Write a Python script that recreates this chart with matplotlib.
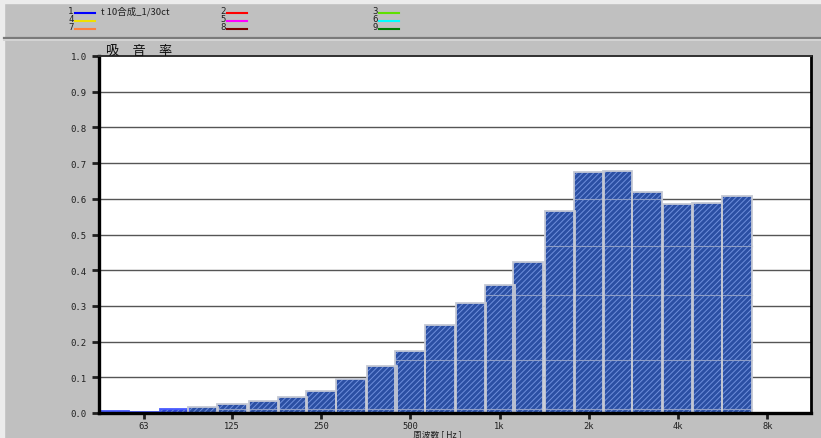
import matplotlib
matplotlib.use("Agg")
import matplotlib.pyplot as plt
from matplotlib.lines import Line2D
from matplotlib.patches import Rectangle

# 1/3 octave band centres [Hz] and absorption coefficients
bands = [50, 63, 80, 100, 125, 160, 200, 250, 315, 400, 500, 630, 800,
         1000, 1250, 1600, 2000, 2500, 3150, 4000, 5000, 6300]
alpha = [0.007, 0.004, 0.012, 0.018, 0.026, 0.035, 0.046, 0.063, 0.094,
         0.132, 0.174, 0.247, 0.308, 0.359, 0.423, 0.566, 0.676, 0.677,
         0.620, 0.585, 0.589, 0.609]

# octave tick positions and labels
tick_freqs = [63, 125, 250, 500, 1000, 2000, 4000, 8000]
tick_labels = ["63", "125", "250", "500", "1k", "2k", "4k", "8k"]
yticks = [0.0, 0.1, 0.2, 0.3, 0.4, 0.5, 0.6, 0.7, 0.8, 0.9, 1.0]

# light lines running through the bars
inner_levels = [0.011, 0.148, 0.33, 0.468, 0.60]

# legend slots
slot_ids = ["1", "2", "3", "4", "5", "6", "7", "8", "9"]
slot_colors = ["#0000ff", "#ff0000", "#60e000", "#f0e000", "#ff00ff",
               "#00ffff", "#ff8040", "#800000", "#008000"]
slot_names = ["t 10合成_1/30ct", "", "", "", "", "", "", "", ""]

W, H = 821, 439
fig = plt.figure(figsize=(W / 100, H / 100), dpi=100)
fig.patch.set_facecolor("#c0c0c0")

def px(x, y):
    return x / W, 1 - y / H

# window frame
fig.patches.append(Rectangle((0, 1 - 4 / H), 1, 4 / H, transform=fig.transFigure,
                             color="#ececec", zorder=0))
fig.patches.append(Rectangle((0, 0), 4 / W, 1, transform=fig.transFigure,
                             color="#ececec", zorder=0))
fig.add_artist(Line2D([4 / W, 1], [1 - 38.5 / H] * 2, color="#7a7a7a", lw=1.6))
fig.add_artist(Line2D([4 / W, 1], [1 - 40.5 / H] * 2, color="#d4d4d4", lw=1.4))

# legend
cjk = ["Noto Sans CJK JP", "DejaVu Sans"]
for i, (sid, col, name) in enumerate(zip(slot_ids, slot_colors, slot_names)):
    c, r = i % 3, i // 3
    x0 = 75 + c * 152
    yl = 13.7 + r * 8.3
    fig.text(*px(x0 - 1.5, yl - 2.3), sid, fontsize=6.5, family="DejaVu Sans Mono",
             ha="right", va="center", color="#202020")
    fig.add_artist(Line2D([x0 / W, (x0 + 20) / W], [1 - yl / H] * 2, color=col, lw=1.5))
    if name:
        fig.text(*px(x0 + 26, yl - 2.3), name, fontsize=6.8, family=cjk,
                 ha="left", va="center", color="#202020")

ax = fig.add_axes([99 / W, 25 / H, 712 / W, 357 / H])
ax.set_facecolor("white")
ax.set_xscale("log")
step = 2 ** (1 / 6)
ax.set_xlim(bands[0] / step, 10000 * step)
ax.set_ylim(0, 1.0)

for yv in yticks[1:-1]:
    ax.axhline(yv, color="#555555", lw=1.0, zorder=1)

lefts = [f / step for f in bands]
widths = [f * step - f / step for f in bands]
face = ["#2f45d8" if f < 100 else "#2b4fa3" for f in bands]
edge = ["#4a5cff" if f < 100 else "#c4c8d4" for f in bands]

ax.bar(lefts, alpha, width=widths, align="edge", color=face, lw=0, zorder=2)
plt.rcParams["hatch.linewidth"] = 0.7
ax.bar(lefts, alpha, width=widths, align="edge", fill=False, hatch="//////",
       edgecolor="#6f8fdc", lw=0, zorder=3)
for l, w, a in zip(lefts, widths, alpha):
    for lv in inner_levels:
        if a > lv + 0.01:
            ax.plot([l, l + w], [lv, lv], color="#8d9dc6", lw=0.8, zorder=4)
ax.bar(lefts, alpha, width=widths, align="edge", fill=False, edgecolor=edge,
       lw=1.3, zorder=5)

ax.spines["left"].set_linewidth(2.4)
ax.spines["bottom"].set_linewidth(2.4)
ax.spines["right"].set_linewidth(2.0)
ax.spines["top"].set_linewidth(1.4)
ax.spines["top"].set_color("#303030")
for s in ax.spines.values():
    s.set_zorder(6)

ax.set_xticks(tick_freqs)
ax.set_xticklabels(tick_labels)
ax.minorticks_off()
ax.set_yticks(yticks)
ax.set_yticklabels(["%.1f" % v for v in yticks])
ax.tick_params(axis="y", direction="out", length=5, width=2, pad=4,
               labelsize=6.5, colors="#202020")
ax.tick_params(axis="x", direction="out", length=4, width=2, pad=1.5,
               labelsize=6.3, colors="#202020")
for lab in ax.get_xticklabels() + ax.get_yticklabels():
    lab.set_family("DejaVu Sans Mono")

fig.text(*px(106, 51), "吸　音　率", fontsize=9.5, family=cjk,
         ha="left", va="center", color="#101010")
fig.text(*px(413, 434.5), "周波数 [ Hz ]", fontsize=6.3, family=cjk,
         ha="left", va="center", color="#202020")

fig.savefig("out.png", dpi=100, facecolor=fig.get_facecolor())
